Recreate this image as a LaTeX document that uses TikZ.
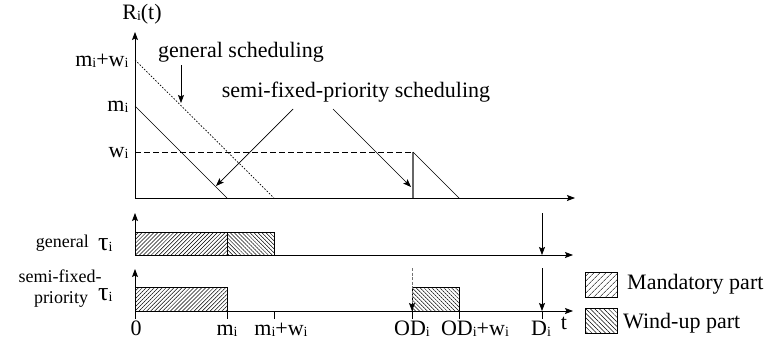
\documentclass[tikz,border=0pt]{standalone}
\usepackage{fontspec}
\setmainfont{Liberation Serif}
\usetikzlibrary{arrows.meta,patterns.meta}

% small, slightly lowered index letter
\newcommand\lo[1]{\raisebox{-1.5pt}{\fontsize{14}{14}\selectfont #1}}

\begin{document}
\begin{tikzpicture}[x=1pt,y=-1pt,
  font=\fontsize{22}{26}\selectfont,
  axis/.style={line width=0.8pt,-{Stealth[length=8pt,width=6pt,inset=1.5pt]}},
  ptr/.style={line width=0.7pt,-{Stealth[length=8pt,width=6pt,inset=1.5pt]}},
  mand/.style={draw,line width=0.7pt,pattern={Lines[angle=45,distance=2.8pt,line width=0.5pt]}},
  wind/.style={draw,line width=0.7pt,pattern={Lines[angle=-45,distance=2.8pt,line width=0.5pt]}},
  mandkey/.style={draw,line width=0.7pt,pattern={Lines[angle=45,distance=4pt,line width=0.5pt]}},
  windkey/.style={draw,line width=0.7pt,pattern={Lines[angle=-45,distance=3.2pt,line width=0.5pt]}},
  tickmark/.style={line width=0.7pt},
  sidelabel/.style={anchor=base,inner sep=0pt,font=\fontsize{18}{21}\selectfont}]

\useasboundingbox (0,0) rectangle (782,343);

% ---------------- remaining execution time plot ----------------
\coordinate (O1) at (135,198);
\coordinate (Y1) at (135,32);
\coordinate (X1) at (575,198);
\draw[axis] (O1) -- (Y1);
\draw[axis] (O1) -- (X1);
\node (R) at (142,14) {R\lo{i}(t)};

\coordinate (MW) at (135,60);
\coordinate (MWend) at (274,198);
\coordinate (M) at (135,106);
\coordinate (Mend) at (227,198);
\coordinate (W) at (135,152);
\coordinate (ODtop) at (413,152);
\coordinate (ODbot) at (413,198);
\coordinate (ODend) at (459,198);

\draw[line width=0.7pt,dash pattern=on 1.6pt off 1.6pt] (MW) -- (MWend);
\draw[line width=0.7pt] (M) -- (Mend);
\draw[line width=0.7pt,dash pattern=on 6pt off 3pt] (W) -- (ODtop);
\draw[line width=1.3pt,black!60] (ODtop) -- (ODbot);
\draw[line width=0.7pt] (ODtop) -- (ODend);

\node[anchor=east] (lmw) at (132,61) {m\lo{i}+w\lo{i}};
\node[anchor=east] (lm) at (132,107) {m\lo{i}};
\node[anchor=east] (lw) at (132,153) {w\lo{i}};

\node[anchor=base west,inner sep=0pt] (gs) at (158,57) {general scheduling};
\coordinate (gsA) at (181,65);
\coordinate (gsB) at (181,103);
\draw[ptr] (gsA) -- (gsB);

\node[anchor=base,inner sep=0pt] (sfs) at (356,97) {semi-fixed-priority scheduling};
\coordinate (sfA) at (293,109);
\coordinate (sfB) at (216,186);
\coordinate (sfC) at (333,109);
\coordinate (sfD) at (411,187);
\draw[ptr] (sfA) -- (sfB);
\draw[ptr] (sfC) -- (sfD);

% ---------------- general schedule ----------------
\coordinate (O2) at (135,255);
\coordinate (Y2) at (135,213);
\coordinate (X2) at (573,255);
\draw[mand] (135,232) rectangle (227,255);
\draw[wind] (227,232) rectangle (274,255);
\draw[axis] (O2) -- (Y2);
\draw[axis] (O2) -- (X2);
\coordinate (D2a) at (542,213);
\coordinate (D2b) at (542,255);
\draw[ptr] (D2a) -- (D2b);

\node[sidelabel,anchor=base east] (lgen) at (89,247) {general};
\node[anchor=base west,inner sep=0pt,font=\fontsize{26}{26}\selectfont] (tau1) at (98,250) {τ\lo{i}};

% ---------------- semi-fixed-priority schedule ----------------
\coordinate (O3) at (135,311);
\coordinate (O3low) at (135,319);
\coordinate (Y3) at (135,269);
\coordinate (X3) at (573,311);
\draw[mand] (135,287) rectangle (227,311);
\draw[wind] (412,287) rectangle (459,311);
\draw[axis] (O3low) -- (Y3);
\draw[axis] (O3) -- (X3);

\foreach \x/\n in {227/a,274/b,412/c,459/d,542/e}{
  \coordinate (t\n) at (\x,311);
  \coordinate (u\n) at (\x,319);
  \draw[tickmark] (t\n) -- (u\n);
}

\coordinate (D3a) at (542,268);
\draw[ptr] (D3a) -- (te);
\coordinate (OD3a) at (412,268);
\draw[line width=0.7pt,black!55,dash pattern=on 3pt off 1.5pt,
  -{Stealth[length=8pt,width=6pt,inset=1.5pt,black]}] (OD3a) -- (tc);

\node[sidelabel] (lsemi) at (60,282) {semi-fixed-};
\node[sidelabel] (lprio) at (61,303) {priority};
\node[anchor=base west,inner sep=0pt,font=\fontsize{26}{26}\selectfont] (tau2) at (98,300) {τ\lo{i}};

% time labels
\node[anchor=base,inner sep=0pt] (l0) at (136,335) {0};
\node[anchor=base,inner sep=0pt] (lmi) at (227,335) {m\lo{i}};
\node[anchor=base,inner sep=0pt] (lmwi) at (281,335) {m\lo{i}+w\lo{i}};
\node[anchor=base,inner sep=0pt] (lod) at (412,335) {OD\lo{i}};
\node[anchor=base,inner sep=0pt] (lodw) at (475,335) {OD\lo{i}+w\lo{i}};
\node[anchor=base,inner sep=0pt] (ld) at (541,335) {D\lo{i}};
\node[anchor=base,inner sep=0pt] (lt) at (564,329) {t};

% ---------------- legend ----------------
\draw[mandkey] (585,272) rectangle (617,297);
\draw[windkey] (585,308) rectangle (617,333);
\node[anchor=base west,inner sep=0pt] (kmand) at (627,289) {Mandatory part};
\node[anchor=base west,inner sep=0pt] (kwind) at (623,328) {Wind-up part};

\end{tikzpicture}
\end{document}
